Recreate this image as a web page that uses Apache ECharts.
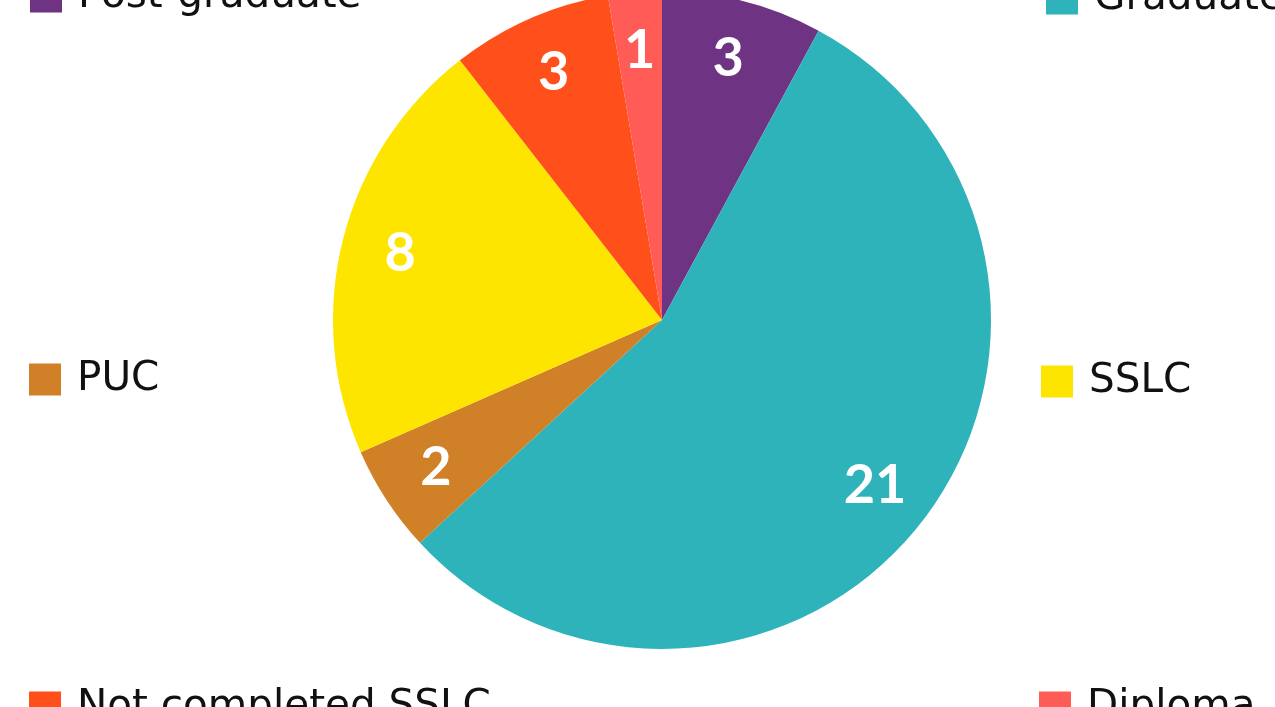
<!DOCTYPE html>
<html><head><meta charset="utf-8">
<script src="https://cdn.jsdelivr.net/npm/echarts@6/dist/echarts.min.js"></script>
<style>html,body{margin:0;padding:0;background:#fff}#c{width:1275px;height:707px}</style>
</head><body><div id="c"></div>
<script>
const categories = ['Post-graduate','Graduate','PUC','SSLC','Not completed SSLC','Diploma'];
const values = [3,21,2,8,3,1];
const colors = ['#6E3483','#2FB3BB','#D08027','#FEE500','#FF4F1B','#FF5C57'];

const legendPos = [
  {left:30, top:-24},
  {left:1046, top:-22},
  {left:29, top:359},
  {left:1041, top:361},
  {left:29, top:687},
  {left:1039, top:687}
];
const LEGEND_FONT = 'DejaVu Sans';
const LABEL_FONT = 'Lato';
const legends = categories.map((c,i)=>({
  data:[c], left:legendPos[i].left, top:legendPos[i].top, padding:0,
  orient:'horizontal', itemWidth:32, itemHeight:32, icon:'rect',
  textStyle:{fontFamily:LEGEND_FONT, fontSize:40.5, color:'#111', lineHeight:32, padding:[0,0,0,11]}
}));
const data = categories.map((c,i)=>({name:c, value:values[i], itemStyle:{color:colors[i]}}));
const chart = echarts.init(document.getElementById('c'));
chart.setOption({
  animation:false,
  legend: legends,
  series:[
    {type:'pie', center:[662,320], radius:[0,329], startAngle:90, clockwise:true,
     label:{show:false}, labelLine:{show:false}, itemStyle:{borderWidth:0}, data:data},
    {type:'pie', center:[662,320], radius:[205,329], startAngle:90, clockwise:true, silent:true,
     itemStyle:{color:'rgba(0,0,0,0)', borderWidth:0},
     label:{show:true, position:'inside', color:'#fff', fontFamily:LABEL_FONT, fontWeight:'bold', fontSize:54, formatter:'{c}'},
     labelLine:{show:false},
     data:categories.map((c,i)=>({name:c, value:values[i], itemStyle:{color:'rgba(0,0,0,0)'}}))}
  ]
});
</script></body></html>
